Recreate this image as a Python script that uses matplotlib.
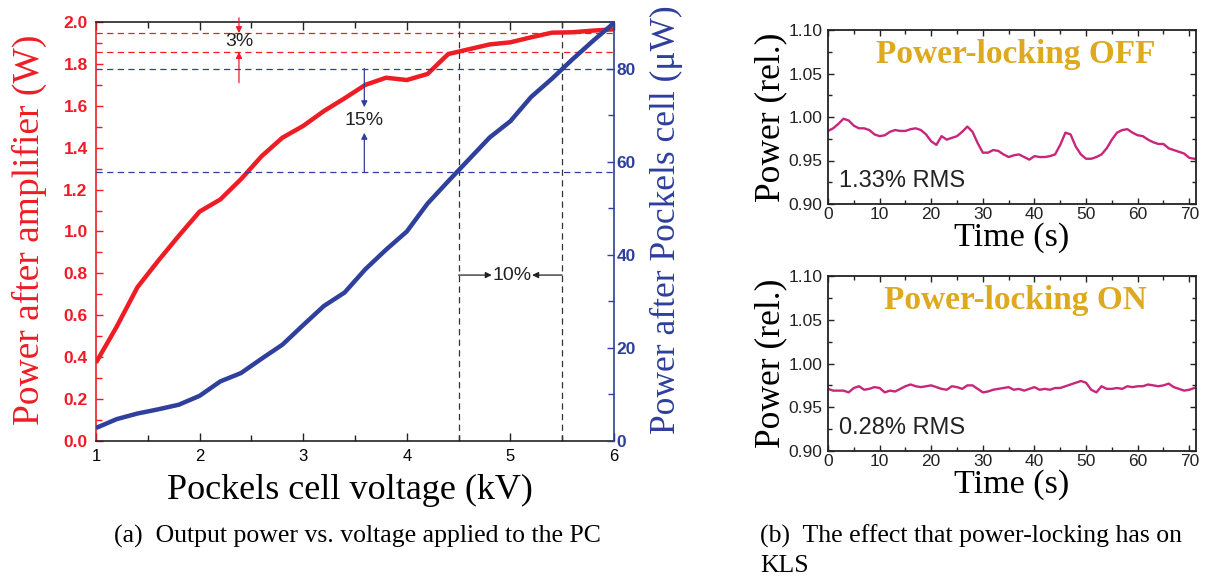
import matplotlib
matplotlib.use('Agg')
import matplotlib.pyplot as plt
import numpy as np
from matplotlib.ticker import MultipleLocator, FormatStrFormatter

plt.rcParams['font.family'] = 'Liberation Sans'

# Pockels cell scan
voltage_kv = [1.0, 1.2, 1.4, 1.6, 1.8, 2.0, 2.2, 2.4, 2.6, 2.8, 3.0, 3.2, 3.4,
              3.6, 3.8, 4.0, 4.2, 4.4, 4.6, 4.8, 5.0, 5.2, 5.4, 5.6, 5.8, 6.0]
amp_power_w = [0.374, 0.546, 0.734, 0.860, 0.980, 1.095, 1.153, 1.250, 1.360, 1.448,
               1.504, 1.575, 1.636, 1.700, 1.734, 1.723, 1.752, 1.847, 1.870, 1.893,
               1.903, 1.927, 1.949, 1.951, 1.959, 1.965]
pc_power_uw = [2.8, 4.7, 5.9, 6.8, 7.8, 9.7, 12.8, 14.6, 17.7, 20.7, 24.9, 29.0, 31.9,
               36.9, 41.1, 45.0, 51.0, 55.8, 60.5, 65.2, 68.7, 73.9, 77.8, 82.0, 86.0, 89.8]

# operating window and the levels it maps to
window_kv = [4.5, 5.5]
amp_levels_w = [1.857, 1.947]
pc_levels_uw = [57.7, 80.0]

# relative power over time, lock off / lock on
time_s = np.arange(72)
power_off = [0.984, 0.987, 0.992, 0.998, 0.996, 0.990, 0.987, 0.987, 0.985, 0.980,
             0.978, 0.979, 0.983, 0.985, 0.984, 0.984, 0.986, 0.987, 0.985, 0.980,
             0.972, 0.968, 0.978, 0.974, 0.976, 0.978, 0.983, 0.989, 0.983, 0.970,
             0.959, 0.959, 0.962, 0.961, 0.957, 0.954, 0.956, 0.957, 0.954, 0.951,
             0.955, 0.954, 0.954, 0.955, 0.957, 0.968, 0.982, 0.980, 0.966, 0.957,
             0.952, 0.952, 0.954, 0.957, 0.964, 0.974, 0.982, 0.985, 0.986, 0.982,
             0.979, 0.978, 0.974, 0.971, 0.969, 0.969, 0.964, 0.962, 0.960, 0.958,
             0.953, 0.952]
power_on = [0.971, 0.969, 0.969, 0.969, 0.967, 0.972, 0.974, 0.970, 0.971, 0.973,
            0.972, 0.967, 0.969, 0.968, 0.971, 0.974, 0.976, 0.974, 0.973, 0.974,
            0.975, 0.973, 0.971, 0.970, 0.974, 0.973, 0.971, 0.975, 0.975, 0.971,
            0.967, 0.968, 0.970, 0.971, 0.972, 0.973, 0.970, 0.971, 0.969, 0.971,
            0.973, 0.970, 0.971, 0.970, 0.972, 0.972, 0.974, 0.976, 0.978, 0.980,
            0.978, 0.970, 0.967, 0.974, 0.971, 0.971, 0.972, 0.971, 0.974, 0.973,
            0.974, 0.974, 0.976, 0.975, 0.974, 0.975, 0.977, 0.973, 0.971, 0.969,
            0.970, 0.972]
rms_labels = ['1.33% RMS', '0.28% RMS']
lock_titles = ['Power-locking OFF', 'Power-locking ON']

RED = '#ee1c25'
BLUE = '#2e3f9c'
GOLD = '#dfa91e'
TRACE = '#c8267a'
SERIF = 'Liberation Serif'

W, H = 1205, 582
fig = plt.figure(figsize=(W / 100, H / 100), dpi=100)


def box(x0, y0, x1, y1):
    # pixel box -> figure fraction rect
    return [x0 / W, 1 - y1 / H, (x1 - x0) / W, (y1 - y0) / H]


# ---- (a) power vs voltage ----
ax = fig.add_axes(box(96, 22, 614, 441))
ax2 = ax.twinx()

ax.plot(voltage_kv, amp_power_w, color=RED, lw=3.2, solid_capstyle='butt', zorder=3)
ax2.plot(voltage_kv, pc_power_uw, color=BLUE, lw=3.2, solid_capstyle='butt', zorder=3)

ax.set_xlim(1, 6)
ax.set_ylim(0, 2.0)
ax2.set_ylim(0, 90)

dash = (0, (5, 3.5))
for lv in amp_levels_w:
    ax.axhline(lv, color=RED, lw=0.9, ls=dash)
for lv in pc_levels_uw:
    ax2.axhline(lv, color=BLUE, lw=0.9, ls=dash)
for v in window_kv:
    ax.axvline(v, color='#333333', lw=0.9, ls=dash)

for s in ['top', 'bottom']:
    ax.spines[s].set_color('#222222')
    ax2.spines[s].set_visible(False)
ax.spines['left'].set_color(RED)
ax.spines['right'].set_visible(False)
ax2.spines['left'].set_visible(False)
ax2.spines['right'].set_color(BLUE)
for sp in list(ax.spines.values()) + list(ax2.spines.values()):
    sp.set_linewidth(1.2)

ax.xaxis.set_major_locator(MultipleLocator(1))
ax.xaxis.set_minor_locator(MultipleLocator(0.5))
ax.yaxis.set_major_locator(MultipleLocator(0.2))
ax.yaxis.set_minor_locator(MultipleLocator(0.1))
ax.yaxis.set_major_formatter(FormatStrFormatter('%.1f'))
ax2.yaxis.set_major_locator(MultipleLocator(20))
ax2.yaxis.set_minor_locator(MultipleLocator(10))

ax.tick_params(axis='x', which='both', direction='in', top=True, bottom=True,
               color='#222222', labelsize=12, pad=6)
ax.tick_params(axis='x', which='major', length=6, width=1)
ax.tick_params(axis='x', which='minor', length=4, width=1)
ax.tick_params(axis='y', which='both', direction='in', left=True, right=False,
               color=RED, labelcolor=RED, labelsize=12.5, pad=6, width=1)
ax.tick_params(axis='y', which='major', length=5)
ax.tick_params(axis='y', which='minor', length=4)
ax2.tick_params(axis='y', which='both', direction='in', color=BLUE, labelcolor=BLUE,
                labelsize=12.5, pad=2, width=1)
ax2.tick_params(axis='y', which='major', length=5)
ax2.tick_params(axis='y', which='minor', length=4)
for lab in ax.get_yticklabels() + ax2.get_yticklabels():
    lab.set_fontweight('bold')

# 3 % band on the amplifier output
arrow_red = dict(arrowstyle='-|>', color=RED, lw=0.9, mutation_scale=9, shrinkA=0, shrinkB=0)
ax.annotate('', xy=(2.38, amp_levels_w[1]), xytext=(2.38, 2.02), arrowprops=arrow_red,
            annotation_clip=False)
ax.annotate('', xy=(2.38, amp_levels_w[0]), xytext=(2.38, 1.71), arrowprops=arrow_red)
ax.text(2.38, 1.905, '3%', ha='center', va='center', fontsize=14, color='#222222')

# 15 % band on the transmitted power
arrow_blue = dict(arrowstyle='-|>', color=BLUE, lw=0.9, mutation_scale=9, shrinkA=0, shrinkB=0)
ax2.annotate('', xy=(3.59, 71.7), xytext=(3.59, pc_levels_uw[1]), arrowprops=arrow_blue)
ax2.annotate('', xy=(3.59, 66.2), xytext=(3.59, pc_levels_uw[0]), arrowprops=arrow_blue)
ax2.text(3.59, 68.8, '15%', ha='center', va='center', fontsize=14, color='#222222')

# 10 % voltage window
arrow_blk = dict(arrowstyle='-|>', color='#222222', lw=0.9, mutation_scale=9, shrinkA=0, shrinkB=0)
ax.annotate('', xy=(4.82, 0.792), xytext=(window_kv[0], 0.792), arrowprops=arrow_blk)
ax.annotate('', xy=(5.21, 0.792), xytext=(window_kv[1], 0.792), arrowprops=arrow_blk)
ax.text(5.02, 0.792, '10%', ha='center', va='center', fontsize=14, color='#222222')

fig.text(29 / W, 1 - 230 / H, 'Power after amplifier (W)', rotation=90, ha='center',
         va='center', fontsize=27, color=RED, family=SERIF)
fig.text(666 / W, 1 - 220 / H, 'Power after Pockels cell (\u03bcW)', rotation=90,
         ha='center', va='center', fontsize=25.5, color=BLUE, family=SERIF)
fig.text(350 / W, 1 - 490 / H, 'Pockels cell voltage (kV)', ha='center', va='center',
         fontsize=26, family=SERIF)
fig.text(357 / W, 1 - 536 / H, '(a)  Output power vs. voltage applied to the PC',
         ha='center', va='center', fontsize=18.5, family=SERIF)

# ---- (b) lock off / on ----
panels = [(30, 204, power_off), (276, 451, power_on)]
for (top, bot, trace), title, rms in zip(panels, lock_titles, rms_labels):
    bx = fig.add_axes(box(828, top, 1196, bot))
    bx.plot(time_s, trace, color=TRACE, lw=1.7)
    bx.set_xlim(0, 71.3)
    bx.set_ylim(0.90, 1.10)
    bx.xaxis.set_major_locator(MultipleLocator(10))
    bx.xaxis.set_minor_locator(MultipleLocator(5))
    bx.yaxis.set_major_locator(MultipleLocator(0.05))
    bx.yaxis.set_minor_locator(MultipleLocator(0.025))
    bx.yaxis.set_major_formatter(FormatStrFormatter('%.2f'))
    bx.tick_params(which='both', direction='in', top=True, right=True, width=1,
                   labelsize=12.5, color='#222222', labelcolor='#222222')
    bx.tick_params(which='major', length=4)
    bx.tick_params(which='minor', length=3)
    bx.tick_params(axis='x', pad=2)
    bx.tick_params(axis='y', pad=4)
    for sp in bx.spines.values():
        sp.set_linewidth(1.3)
        sp.set_color('#222222')

    bx.text(0.51, 0.86, title, transform=bx.transAxes, ha='center', va='center',
            fontsize=24, fontweight='bold', color=GOLD, family=SERIF)
    bx.text(0.03, 0.13, rms, transform=bx.transAxes, ha='left', va='center',
            fontsize=17, color='#222222')
    bx.set_xlabel('Time (s)', fontsize=24.5, family=SERIF, labelpad=0)
    bx.set_ylabel('Power (rel.)', fontsize=25.5, family=SERIF, labelpad=1)

fig.text(760 / W, 1 - 536 / H, '(b)  The effect that power-locking has on',
         ha='left', va='center', fontsize=18.5, family=SERIF)
fig.text(760 / W, 1 - 566 / H, 'KLS', ha='left', va='center', fontsize=18.5, family=SERIF)

fig.savefig('out.png', dpi=100)
